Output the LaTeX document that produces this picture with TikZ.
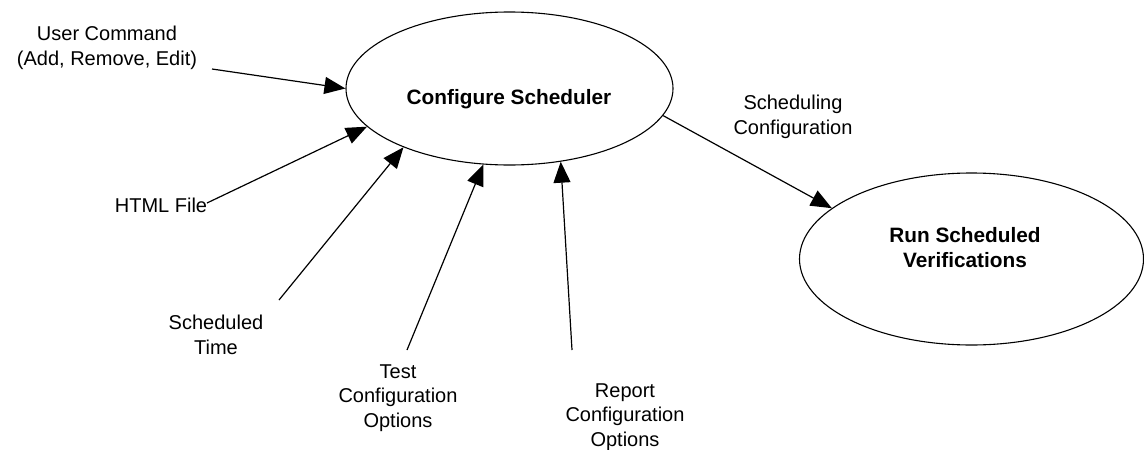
\documentclass[tikz,border=0pt]{standalone}
\usepackage{fontspec}
\setmainfont{Liberation Sans}
\usetikzlibrary{arrows.meta,shapes.geometric}
\begin{document}
\begin{tikzpicture}[x=1pt,y=-1pt,
  every node/.style={font=\fontsize{20}{24.5}\selectfont},
  lbl/.style={align=center,inner sep=0pt},
  title/.style={lbl,font=\fontsize{20.8}{25}\selectfont\bfseries},
  bub/.style={ellipse,draw,line width=1.1pt,inner sep=0pt},
  flow/.style={line width=1.2pt,-{Triangle[length=21pt,width=17pt]}}]
  \useasboundingbox (0,0) rectangle (1144,450);

  % processes
  \node[bub,minimum width=327pt,minimum height=153pt] (cs) at (509.5,88.5) {};
  \node[bub,minimum width=344pt,minimum height=172pt] (rs) at (971.5,259) {};
  \node[title] (cst) at (509,99) {Configure Scheduler};
  \node[title] (rst) at (965,248) {Run Scheduled\\Verifications};

  % inputs and outputs
  \node[lbl] (uc) at (107,48) {User Command\\(Add, Remove, Edit)};
  \node[lbl] (html) at (161,205) {HTML File};
  \node[lbl] (st) at (216,335) {Scheduled\\Time};
  \node[lbl] (tc) at (398,398) {Test\\Configuration\\Options};
  \node[lbl] (rc) at (625,417) {Report\\Configuration\\Options};
  \node[lbl] (sc) at (793,117) {Scheduling\\Configuration};

  % loose ends of the flows
  \coordinate (uc0) at (212,69);
  \coordinate (html0) at (207,203);
  \coordinate (st0) at (279,300);
  \coordinate (tc0) at (407,350);
  \coordinate (rc0) at (572,350);

  \draw[flow] (uc0) -- (cs.180);
  \draw[flow] (html0) -- (cs.195);
  \draw[flow] (st0) -- (cs.209);
  \draw[flow] (tc0) -- (cs.251.6);
  \draw[flow] (rc0) -- (cs.305);
  \draw[flow] (cs.350.6) -- (rs.160);
\end{tikzpicture}
\end{document}
